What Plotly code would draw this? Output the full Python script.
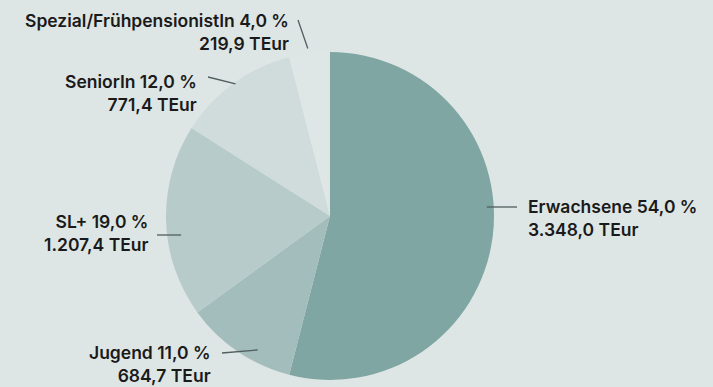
import math
import plotly.graph_objects as go

# Budget split by member group
categories = ["Erwachsene", "Jugend", "SL+", "SeniorIn", "Spezial/FrühpensionistIn"]
shares_pct = [54.0, 11.0, 19.0, 12.0, 4.0]
amounts_teur = [3348.0, 684.7, 1207.4, 771.4, 219.9]

slice_colors = ["#7fa6a3", "#a3bdbc", "#b8cbcb", "#cfdcdb", "#dfe7e6"]
bg_color = "#dee6e5"

W, H = 713, 387
CX, CY, R = 330, 216, 164  # pie centre and radius in pixels

# Label placement: text anchor (px), text side, leader outer end (px), leader mode, depth past rim
label_layout = [
    dict(tx=526, ty=217.5, side="left", ox=517, oy=207, mode="level", depth=7),
    dict(tx=213, ty=364, side="right", ox=222, oy=353, mode="mid", depth=20),
    dict(tx=150, ty=233, side="right", ox=157, oy=235, mode="level", depth=14),
    dict(tx=199, ty=92.5, side="right", ox=208, oy=77, mode="mid", depth=2),
    dict(tx=291, ty=31.5, side="right", ox=298, oy=20, mode="mid", depth=-5),
]


def de_num(v):
    s = f"{v:,.1f}"
    return s.replace(",", "X").replace(".", ",").replace("X", ".")


def px_to_paper(x, y):
    return x / W, 1 - y / H


fig = go.Figure()

fig.add_trace(go.Pie(
    labels=categories,
    values=shares_pct,
    sort=False,
    direction="clockwise",
    rotation=0,
    marker=dict(colors=slice_colors, line=dict(width=0)),
    textinfo="none",
    hoverinfo="label+percent",
    showlegend=False,
    domain=dict(x=[(CX - R) / W, (CX + R) / W],
                y=[(H - CY - R) / H, (H - CY + R) / H]),
))

total = sum(shares_pct)
start = 0.0
shapes = []
annotations = []
for name, pct, teur, lay in zip(categories, shares_pct, amounts_teur, label_layout):
    span = pct / total * 360.0
    mid = math.radians(start + span / 2)
    start += span

    ox, oy = lay["ox"], lay["oy"]
    if lay["mode"] == "mid":
        px = CX + R * math.sin(mid)
        py = CY - R * math.cos(mid)
    else:
        dx = math.sqrt(max(R * R - (oy - CY) ** 2, 0))
        px = CX + dx if ox > CX else CX - dx
        py = oy
    vx, vy = px - ox, py - oy
    n = math.hypot(vx, vy)
    ix, iy = px + vx / n * lay["depth"], py + vy / n * lay["depth"]

    x0, y0 = px_to_paper(ox, oy)
    x1, y1 = px_to_paper(ix, iy)
    shapes.append(dict(type="line", xref="paper", yref="paper",
                       x0=x0, y0=y0, x1=x1, y1=y1, layer="above",
                       line=dict(color="#4f5e5e", width=1.3)))

    text = f"{name} {de_num(pct)} %<br>{de_num(teur)} TEur"
    ax, ay = px_to_paper(lay["tx"], lay["ty"])
    annotations.append(dict(
        x=ax, y=ay, xref="paper", yref="paper",
        text=text, showarrow=False,
        xanchor=lay["side"], yanchor="middle",
        align=lay["side"],
        font=dict(family="Inter, sans-serif", size=17.5, weight=600, color="#1a1a1a"),
    ))

fig.update_layout(
    width=W, height=H,
    margin=dict(l=0, r=0, t=0, b=0),
    paper_bgcolor=bg_color,
    plot_bgcolor=bg_color,
    shapes=shapes,
    annotations=annotations,
    showlegend=False,
)

fig.write_html("out.html")
